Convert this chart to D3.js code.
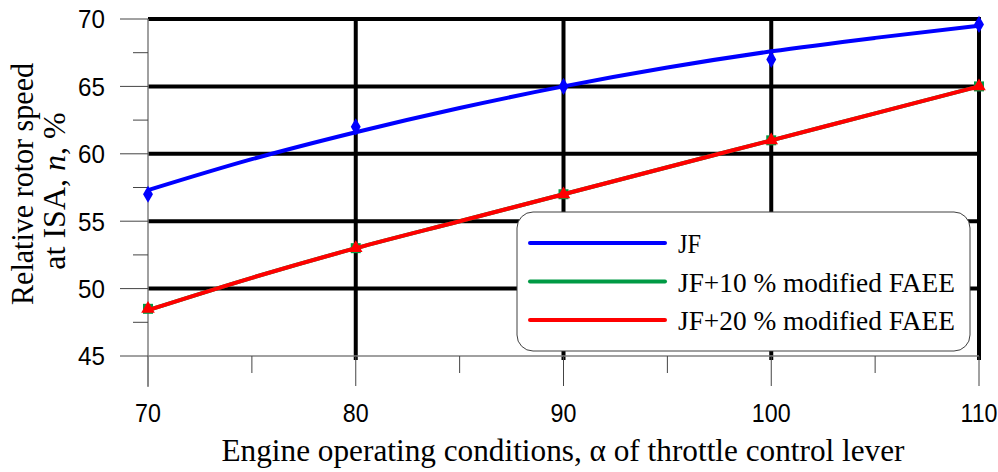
<!DOCTYPE html>
<html>
<head>
<meta charset="utf-8">
<title>Relative rotor speed</title>
<script src="https://cdn.jsdelivr.net/npm/d3@7"></script>
<style>
  body { margin: 0; background: #fff; }
  svg { display: block; }
</style>
</head>
<body>
<div id="chart"></div>
<script>
// measured points
var alpha = [70, 80, 90, 100, 110];
var jf = [57.0, 62.0, 65.0, 67.0, 69.6];
var jf10 = [48.5, 53.0, 57.0, 61.0, 65.0];
var jf20 = [48.5, 53.0, 57.0, 61.0, 65.0];

// trend lines
var trendAlpha = [70, 75, 80, 85, 90, 95, 100, 105, 110];
var jfTrend = [57.3, 59.6, 61.6, 63.4, 65.0, 66.4, 67.6, 68.6, 69.5];
var jf10Trend = [48.4, 50.8, 53.0, 55.0, 57.0, 59.0, 61.0, 63.0, 65.0];
var jf20Trend = [48.4, 50.8, 53.0, 55.0, 57.0, 59.0, 61.0, 63.0, 65.0];

var xTicks = [70, 80, 90, 100, 110];
var yTicks = [45, 50, 55, 60, 65, 70];
var seriesNames = ["JF", "JF+10 % modified FAEE", "JF+20 % modified FAEE"];

var width = 998, height = 472;
var serif = "'Liberation Serif', 'Times New Roman', serif";
var sans = "'Liberation Sans', Arial, sans-serif";

var svg = d3.select("#chart").append("svg")
  .attr("width", width)
  .attr("height", height);

var x = d3.scaleLinear().domain([70, 110]).range([148, 979]);
var y = d3.scaleLinear().domain([45, 70]).range([356, 19]);

// thick black grid
svg.append("g").selectAll("line")
  .data(yTicks.filter(d => d > 45))
  .join("line")
    .attr("x1", x(70)).attr("x2", x(110) + 2)
    .attr("y1", d => y(d)).attr("y2", d => y(d))
    .attr("stroke", "#000").attr("stroke-width", 4);

svg.append("g").selectAll("line")
  .data(xTicks.filter(d => d > 70))
  .join("line")
    .attr("x1", d => x(d)).attr("x2", d => x(d))
    .attr("y1", y(70) - 2).attr("y2", y(45) + 4)
    .attr("stroke", "#000").attr("stroke-width", 4);

// axes
var xAxis = svg.append("g");
xAxis.append("line")
  .attr("x1", x(70)).attr("x2", x(110))
  .attr("y1", y(45)).attr("y2", y(45))
  .attr("stroke", "#808080").attr("stroke-width", 1.5);
xAxis.selectAll(".major")
  .data(xTicks)
  .join("line")
    .attr("x1", d => x(d)).attr("x2", d => x(d))
    .attr("y1", y(45)).attr("y2", y(45) + 30)
    .attr("stroke", "#444").attr("stroke-width", 1);
xAxis.selectAll(".minor")
  .data(d3.range(75, 110, 10))
  .join("line")
    .attr("x1", d => x(d)).attr("x2", d => x(d))
    .attr("y1", y(45)).attr("y2", y(45) + 17)
    .attr("stroke", "#444").attr("stroke-width", 1);
xAxis.selectAll("text")
  .data(xTicks)
  .join("text")
    .attr("transform", d => `translate(${x(d)},422) scale(0.93,1)`)
    .attr("text-anchor", "middle")
    .style("font", "25px " + sans)
    .text(d => d);

var yAxis = svg.append("g");
yAxis.append("line")
  .attr("x1", x(70)).attr("x2", x(70))
  .attr("y1", y(70)).attr("y2", y(45) + 31)
  .attr("stroke", "#808080").attr("stroke-width", 1.5);
yAxis.selectAll(".major")
  .data(yTicks)
  .join("line")
    .attr("x1", x(70) - 28).attr("x2", x(70))
    .attr("y1", d => y(d)).attr("y2", d => y(d))
    .attr("stroke", "#444").attr("stroke-width", 1);
yAxis.selectAll(".minor")
  .data(d3.range(47.5, 70, 5))
  .join("line")
    .attr("x1", x(70) - 15).attr("x2", x(70))
    .attr("y1", d => y(d)).attr("y2", d => y(d))
    .attr("stroke", "#444").attr("stroke-width", 1);
yAxis.selectAll("text")
  .data(yTicks)
  .join("text")
    .attr("transform", d => `translate(105,${y(d)}) scale(0.93,1)`)
    .attr("dy", "0.36em")
    .attr("text-anchor", "end")
    .style("font", "26px " + sans)
    .text(d => d);

// series
var series = [
  { name: seriesNames[0], color: "#0000ff", trend: jfTrend, pts: jf, symbol: d3.symbolDiamond, size: 85 },
  { name: seriesNames[1], color: "#009a44", trend: jf10Trend, pts: jf10, symbol: d3.symbolSquare, size: 100 },
  { name: seriesNames[2], color: "#ff0000", trend: jf20Trend, pts: jf20, symbol: d3.symbolTriangle, size: 80 }
];

var line = d3.line()
  .x((d, i) => x(trendAlpha[i]))
  .y(d => y(d))
  .curve(d3.curveMonotoneX);

series.forEach(function(s) {
  svg.append("path")
    .attr("d", line(s.trend))
    .attr("fill", "none")
    .attr("stroke", s.color)
    .attr("stroke-width", 4);
  svg.append("g").selectAll("path")
    .data(s.pts)
    .join("path")
      .attr("transform", (d, i) => `translate(${x(alpha[i])},${y(d)})`)
      .attr("d", d3.symbol().type(s.symbol).size(s.size))
      .attr("fill", s.color);
});

// legend
var legend = svg.append("g");
legend.append("rect")
  .attr("x", 517).attr("y", 212)
  .attr("width", 453).attr("height", 139)
  .attr("rx", 16).attr("ry", 16)
  .attr("fill", "#fff")
  .attr("stroke", "#404040").attr("stroke-width", 1);
var item = legend.selectAll(".item")
  .data(series)
  .join("g")
    .attr("transform", (d, i) => `translate(0,${243 + i * 38.5})`);
item.append("line")
  .attr("x1", 530).attr("x2", 665)
  .attr("stroke", d => d.color)
  .attr("stroke-width", 4)
  .attr("stroke-linecap", "round");
item.append("text")
  .attr("x", 678)
  .attr("y", 10)
  .style("font", "28px " + serif)
  .attr("textLength", (d, i) => i ? 277 : 23)
  .attr("lengthAdjust", "spacingAndGlyphs")
  .text(d => d.name);

// titles
svg.append("text")
  .attr("x", 563).attr("y", 461)
  .attr("text-anchor", "middle")
  .attr("textLength", 683)
  .attr("lengthAdjust", "spacingAndGlyphs")
  .style("font", "32px " + serif)
  .text("Engine operating conditions, α of throttle control lever");

var yt = svg.append("g")
  .style("font", "32px " + serif)
  .attr("text-anchor", "middle");
yt.append("text")
  .attr("transform", "translate(33,184) rotate(-90)")
  .attr("textLength", 242)
  .attr("lengthAdjust", "spacingAndGlyphs")
  .text("Relative rotor speed");
var yt2 = yt.append("text")
  .attr("transform", "translate(65,191) rotate(-90)");
yt2.append("tspan").text("at ISA, ");
yt2.append("tspan").style("font-style", "italic").text("n");
yt2.append("tspan").text(", %");
</script>
</body>
</html>
